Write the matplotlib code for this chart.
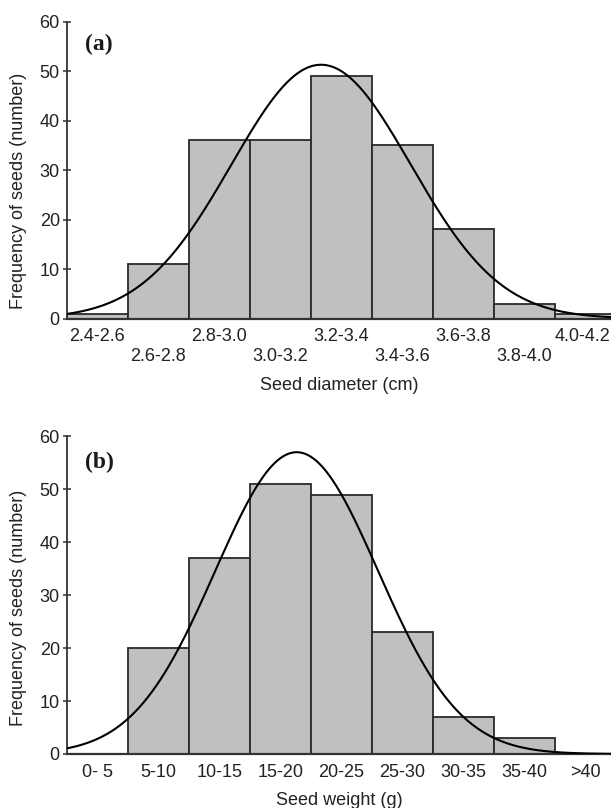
import numpy as np
import matplotlib
matplotlib.use("Agg")
import matplotlib.pyplot as plt
from matplotlib.transforms import ScaledTranslation

# ---- data ----
diam_labels = ["2.4-2.6", "2.6-2.8", "2.8-3.0", "3.0-3.2", "3.2-3.4",
               "3.4-3.6", "3.6-3.8", "3.8-4.0", "4.0-4.2"]
diam_counts = [1, 11, 36, 36, 49, 35, 18, 3, 1]
diam_first_center = 2.5   # cm, center of first class
diam_bin_width = 0.2      # cm
diam_fit_mean = 3.234     # cm (fitted normal curve)
diam_fit_sd = 0.294       # cm
diam_fit_peak = 51.3

weight_labels = ["0- 5", "5-10", "10-15", "15-20", "20-25",
                 "25-30", "30-35", "35-40", ">40"]
weight_counts = [0, 20, 37, 51, 49, 23, 7, 3, 0]
weight_first_center = 2.5  # g
weight_bin_width = 5.0     # g
weight_fit_mean = 18.85    # g
weight_fit_sd = 6.675      # g
weight_fit_peak = 57.0

yticks = [0, 10, 20, 30, 40, 50, 60]

plt.rcParams['font.family'] = ['Liberation Sans', 'DejaVu Sans']

fig = plt.figure(figsize=(6.11, 8.08), dpi=100)
W, H = 611.0, 808.0
left = 66.7 / W
axA = fig.add_axes([left, 1 - 318.5 / H, 1 - left, 296.8 / H])
axB = fig.add_axes([left, 1 - 754.0 / H, 1 - left, 317.7 / H])

bar_face = "#c0c0c0"
bar_edge = "#2a2a2a"
spine_c = "#333333"
txt_c = "#222222"
FS = 13


def draw(ax, labels, counts, c0, bw, mu, sd, peak, xlabel, tag, stagger, tag_y,
         ylab_y, shift_last):
    idx = np.arange(len(counts))
    ax.bar(idx, counts, width=1.0, color=bar_face, edgecolor=bar_edge,
           linewidth=1.3, zorder=2)
    xs = np.linspace(-0.5, len(counts) - 0.5, 400)
    xv = c0 + bw * xs
    ys = peak * np.exp(-0.5 * ((xv - mu) / sd) ** 2)
    ax.plot(xs, ys, color="black", lw=1.5, zorder=3, clip_on=True)
    ax.set_xlim(-0.5, -0.5 + (W - 66.7) / 61.0)
    ax.set_ylim(0, 60)
    ax.set_yticks(yticks)
    ax.set_xticks(idx)
    if stagger:
        ax.set_xticklabels([l if i % 2 == 0 else "\n" + l for i, l in enumerate(labels)],
                           linespacing=1.25)
    else:
        ax.set_xticklabels(labels)
    for s in ["top", "right"]:
        ax.spines[s].set_visible(False)
    ax.spines["left"].set_color(spine_c)
    ax.spines["left"].set_linewidth(1.3)
    ax.spines["bottom"].set_color(spine_c)
    ax.spines["bottom"].set_linewidth(1.6)
    ax.tick_params(axis="x", length=0, pad=7, labelsize=FS, colors=txt_c)
    ax.tick_params(axis="y", direction="inout", length=6, width=1.1,
                   color=spine_c, labelsize=FS, labelcolor=txt_c, pad=2)
    ax.set_ylabel("Frequency of seeds (number)", fontsize=FS, color=txt_c)
    ax.yaxis.set_label_coords(-0.073, ylab_y)
    ax.set_xlabel(xlabel, fontsize=FS, color=txt_c, labelpad=8)
    ax.text(99, tag_y, tag, transform=None, fontsize=17, fontweight="bold",
            family="Liberation Serif", ha="center", va="center", color="#1a1a1a")
    if shift_last:
        # keep the last category label inside the picture
        lab = ax.get_xticklabels()[-1]
        lab.set_transform(lab.get_transform() +
                          ScaledTranslation(-3 / 100, 0, fig.dpi_scale_trans))


draw(axA, diam_labels, diam_counts, diam_first_center, diam_bin_width,
     diam_fit_mean, diam_fit_sd, diam_fit_peak, "Seed diameter (cm)", "(a)", True,
     H - 44, 0.43, True)
draw(axB, weight_labels, weight_counts, weight_first_center, weight_bin_width,
     weight_fit_mean, weight_fit_sd, weight_fit_peak, "Seed weight (g)", "(b)", False,
     H - 462, 0.46, False)

fig.savefig("out.png", dpi=100)
